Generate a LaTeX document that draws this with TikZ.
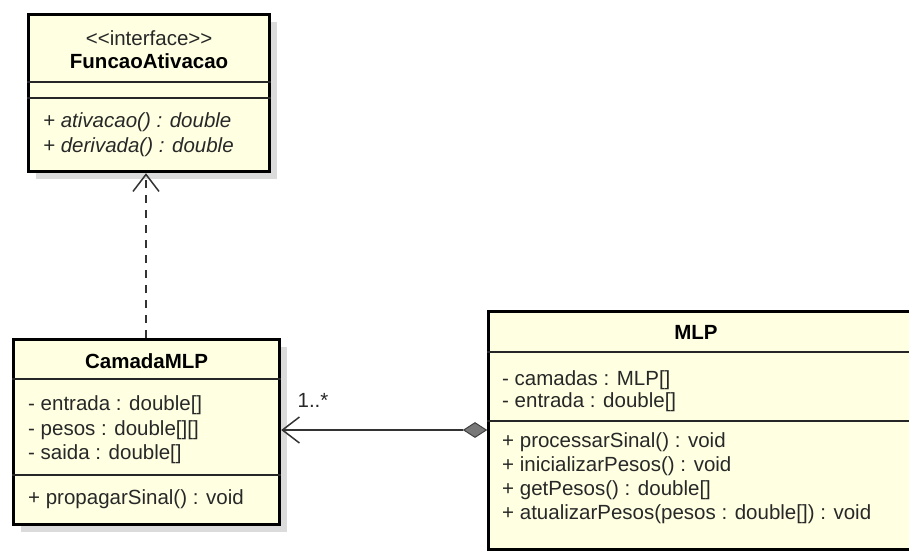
\documentclass[tikz,border=0pt]{standalone}
\usepackage{fontspec}
\setmainfont{Liberation Sans}[Ligatures=TeXOff]
\usetikzlibrary{arrows.meta,shapes.geometric,shadows,calc}
\definecolor{classfill}{RGB}{255,255,226}
\definecolor{membertext}{RGB}{40,40,40}
\definecolor{diamondfill}{RGB}{120,120,120}
\begin{document}
\begin{tikzpicture}[x=1pt,y=-1pt,
  classbox/.style={draw=black, line width=3.2pt, fill=classfill, inner sep=0pt,
    anchor=north west,
    drop shadow={shadow xshift=7pt, shadow yshift=-7pt, fill=black!14, opacity=1}},
  compsep/.style={line width=1.3pt, draw=black!85},
  member/.style={anchor=west, inner sep=0pt, text=membertext,
    font=\fontsize{20.5}{24}\selectfont},
  classname/.style={inner sep=0pt, text=black,
    font=\bfseries\fontsize{20.5}{24}\selectfont},
  stereo/.style={inner sep=0pt, text=membertext,
    font=\fontsize{20.5}{24}\selectfont},
  link/.style={line width=1.5pt, draw=black!80},
  openhead/.style={-{Straight Barb[length=17pt,width=26pt]}},
  aggdiamond/.style={diamond, inner sep=0pt, minimum width=23pt, minimum height=15pt,
    draw=black!75, line width=1pt, fill=diamondfill},
  mult/.style={inner sep=0pt, text=membertext, font=\fontsize{20.5}{24}\selectfont}
]
\useasboundingbox (0,0) rectangle (909,550);
\clip (0,0) rectangle (909,550);

% class boxes
\node[classbox, minimum width=241pt, minimum height=157pt] (funcao) at (27,13) {};
\node[classbox, minimum width=266pt, minimum height=185pt] (camada) at (12,338) {};
\node[classbox, minimum width=430pt, minimum height=238pt] (mlp) at (487,310) {};

% FuncaoAtivacao compartments
\draw[compsep] (funcao.west |- 0,82) -- (funcao.east |- 0,82);
\draw[compsep] (funcao.west |- 0,98) -- (funcao.east |- 0,98);
\node[stereo] (funcaoStereo) at (funcao.north |- 0,38) {<<interface>>};
\node[classname] (funcaoName) at (funcao.north |- 0,61) {FuncaoAtivacao};
\node[member, font=\itshape\fontsize{20.5}{24}\selectfont] (funcaoM1) at (43,122) {+ ativacao() : double};
\node[member, font=\itshape\fontsize{20.5}{24}\selectfont] (funcaoM2) at (43,147) {+ derivada() : double};

% CamadaMLP compartments
\draw[compsep] (camada.west |- 0,379) -- (camada.east |- 0,379);
\draw[compsep] (camada.west |- 0,475) -- (camada.east |- 0,475);
\node[classname] (camadaName) at (camada.north |- 0,361) {CamadaMLP};
\node[member] (camadaA1) at (28,405) {- entrada : double[]};
\node[member] (camadaA2) at (28,430) {- pesos : double[][]};
\node[member] (camadaA3) at (28,454) {- saida : double[]};
\node[member] (camadaM1) at (28,499) {+ propagarSinal() : void};

% MLP compartments
\draw[compsep] (mlp.west |- 0,352) -- (mlp.east |- 0,352);
\draw[compsep] (mlp.west |- 0,421) -- (mlp.east |- 0,421);
\node[classname] (mlpName) at (696,332) {MLP};
\node[member] (mlpA1) at (502,380) {- camadas : MLP[]};
\node[member] (mlpA2) at (502,402) {- entrada : double[]};
\node[member] (mlpM1) at (502,442) {+ processarSinal() : void};
\node[member] (mlpM2) at (502,466) {+ inicializarPesos() : void};
\node[member] (mlpM3) at (502,490) {+ getPesos() : double[]};
\node[member] (mlpM4) at (502,514) {+ atualizarPesos(pesos : double[]) : void};

% realization: CamadaMLP uses FuncaoAtivacao
\coordinate (depFrom) at (146,338);
\coordinate (depTo) at (funcao.south -| depFrom);
\draw[link, openhead, dash pattern=on 8pt off 7pt] (camada.north -| depFrom) -- (depTo);

% aggregation: MLP holds CamadaMLP layers
\node[aggdiamond] (agg) at ($(mlp.west |- 0,430)+(-12,0)$) {};
\draw[link, openhead] (agg.west) -- (camada.east |- agg.west);
\node[mult] (multCamada) at (313,400) {1..*};
\end{tikzpicture}
\end{document}
